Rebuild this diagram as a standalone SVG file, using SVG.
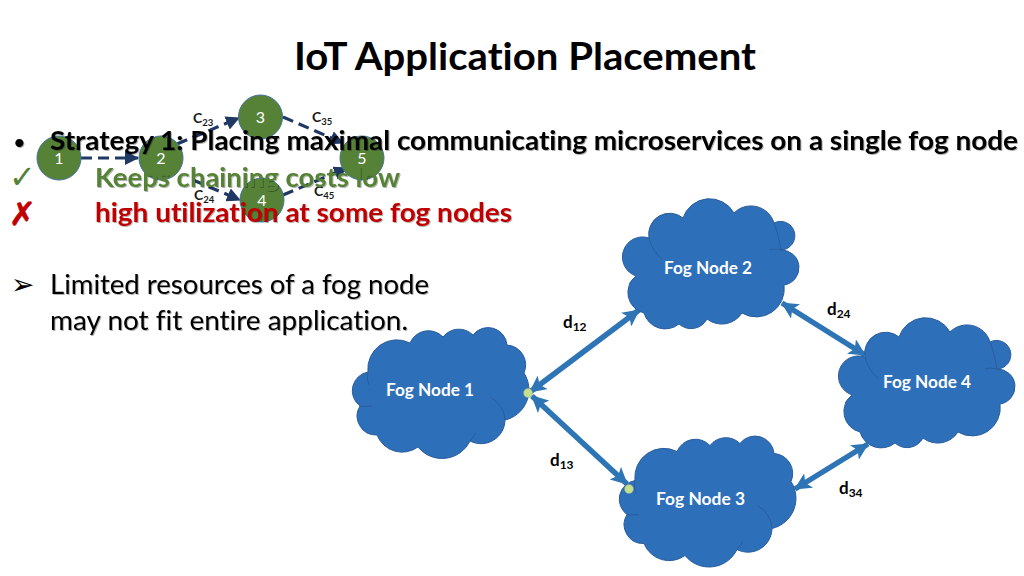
<svg xmlns="http://www.w3.org/2000/svg" xmlns:xlink="http://www.w3.org/1999/xlink" width="1024" height="576" viewBox="0 0 1024 576">
<style>
text{font-family:"Lato","Carlito","Open Sans",sans-serif;font-variant-ligatures:none}
.cloud{fill:#2e6fba;stroke:#2a5d9c;stroke-width:1}
.inner{fill:none;stroke:#2a5d9c;stroke-width:1}
.fn{fill:#fff;font-weight:700;font-size:16.5px}
.d{fill:#000;font-weight:700;font-size:17px}
.sub{font-size:12px}
.c{fill:#1a1a1a;font-weight:700;font-size:14px}
.csub{font-size:9.5px}
.ms circle{fill:#568238;stroke:#41719c;stroke-width:1}
.ms text{fill:#fff;font-size:16px;text-anchor:middle}
.dash{fill:none;stroke:#203864;stroke-width:3.200;stroke-dasharray:11 6;marker-end:url(#nav)}
.link{fill:none;stroke:#2e75b6;stroke-width:5.500;marker-start:url(#blu);marker-end:url(#blu)}
.body{font-size:26px;filter:url(#sh)}
.b{font-weight:700}
.dot{fill:#c5e08a;stroke:#7fa0a0;stroke-width:.5}
</style>
<defs>
<filter id="sh" x="-5%" y="-20%" width="110%" height="150%"><feDropShadow dx="1" dy="1" stdDeviation=".6" flood-color="#000" flood-opacity=".3"/></filter>
<marker id="blu" viewBox="0 0 17 17" refX="16" refY="8.500" markerWidth="17" markerHeight="17" markerUnits="userSpaceOnUse" orient="auto-start-reverse"><path d="M0 0L17 8.500L0 17L4 8.500Z" fill="#2e75b6"/></marker>
<marker id="nav" viewBox="0 0 14 14" refX="13" refY="7" markerWidth="14" markerHeight="14" markerUnits="userSpaceOnUse" orient="auto"><path d="M0 0L14 7L0 14Z" fill="#203864"/></marker>
<g id="cloudA">
<path class="cloud" d="M368 372A29 29 0 0 1 410 343A20 20 0 0 1 443 337A20 20 0 0 1 473 335A19 19 0 0 1 507 345A20 20 0 0 1 524 373A31 31 0 0 1 505 420A24 24 0 0 1 470 441A31 31 0 0 1 418 447A27 27 0 0 1 377 435A19 19 0 0 1 360 406A19 19 0 0 1 368 372Z"/>
<path class="inner" d="M490 397A27 27 0 0 1 505 420M368 372Q366 378 369 385M360 406Q364 407 372 406M470 441Q473 437 476 433"/>
</g>
<g id="cloudB">
<path class="cloud" d="M865 357A21 21 0 0 1 899 337A28 28 0 0 1 950 332A24 24 0 0 1 990 342A14.300 14.300 0 1 1 997 369A17.600 17.600 0 0 1 1000 404A28 28 0 0 1 958 432A24 24 0 0 1 923 438A18 18 0 0 1 895 443A22 22 0 0 1 860 432A21 21 0 0 1 852 395A20 20 0 0 1 865 357Z"/>
<path class="inner" d="M865 357Q868 370 878 378M852 395Q848 399 845 403M990 342Q994 352 997 369Q990 367 985 369"/>
</g>
</defs>
<rect width="1024" height="576" fill="#fff"/>
<g id="connectors">
<path class="dash" d="M81 158H138"/>
<path class="dash" d="M177 144L239 118"/>
<path class="dash" d="M283 117L343 143"/>
<path class="dash" d="M193 180L240 200"/>
<path class="dash" d="M283 195L347 168"/>
<path class="link" d="M530 392L639 310"/>
<path class="link" d="M532 396L627 484"/>
<path class="link" d="M782 303L865 355"/>
<path class="link" d="M868 444L795 489"/>
</g>
<g id="ms1" class="ms"><circle cx="59" cy="158" r="22"/><text x="59" y="163.500">1</text></g>
<g id="ms2" class="ms"><circle cx="161" cy="158" r="22"/><text x="161" y="163.500">2</text></g>
<g id="ms3" class="ms"><circle cx="260.500" cy="117" r="22"/><text x="260.500" y="122.500">3</text></g>
<g id="ms4" class="ms"><circle cx="262" cy="200" r="22"/><text x="262" y="205.500">4</text></g>
<g id="ms5" class="ms"><circle cx="362" cy="158" r="22"/><text x="362" y="163.500">5</text></g>
<text class="c" x="193" y="123">C<tspan class="csub" dy="3">23</tspan></text>
<text class="c" x="312" y="122">C<tspan class="csub" dy="3">35</tspan></text>
<text class="c" x="194" y="200">C<tspan class="csub" dy="3">24</tspan></text>
<text class="c" x="314" y="196">C<tspan class="csub" dy="3">45</tspan></text>

<text id="title" x="294" y="69.500" font-size="38" font-weight="700" textLength="462" lengthAdjust="spacingAndGlyphs" fill="#000">IoT Application Placement</text>

<text x="13" y="150" class="body" style="font-size:22px">•</text>
<text x="50" y="150" class="body b" textLength="968" lengthAdjust="spacingAndGlyphs">Strategy 1: Placing maximal communicating microservices on a single fog node</text>
<text x="9" y="188" font-size="32" style="font-family:'DejaVu Sans',sans-serif" fill="#548235">✓</text>
<text x="95" y="187" class="body b" fill="#548235" textLength="305" lengthAdjust="spacingAndGlyphs">Keeps chaining costs low</text>
<text x="9" y="225" font-size="32" font-weight="700" stroke="#c00000" stroke-width=".8" style="font-family:'DejaVu Sans',sans-serif" fill="#c00000">✗</text>
<text x="95" y="222" class="body b" fill="#c00000" textLength="417" lengthAdjust="spacingAndGlyphs">high utilization at some fog nodes</text>
<text x="11" y="294" font-size="28" style="font-family:'DejaVu Sans',sans-serif">➢</text>
<text x="50" y="294" class="body" textLength="379" lengthAdjust="spacingAndGlyphs">Limited resources of a fog node</text>
<text x="50" y="330" class="body" textLength="358" lengthAdjust="spacingAndGlyphs">may not fit entire application.</text>

<g id="fog1"><use xlink:href="#cloudA" href="#cloudA"/><text class="fn" x="386" y="396" textLength="88" lengthAdjust="spacingAndGlyphs">Fog Node 1</text></g>
<g id="fog2"><use xlink:href="#cloudB" href="#cloudB" transform="translate(-216,-119)"/><text class="fn" x="664" y="274" textLength="88" lengthAdjust="spacingAndGlyphs">Fog Node 2</text></g>
<g id="fog3"><use xlink:href="#cloudA" href="#cloudA" transform="translate(267,108.500)"/><text class="fn" x="656" y="505" textLength="89" lengthAdjust="spacingAndGlyphs">Fog Node 3</text></g>
<g id="fog4"><use xlink:href="#cloudB" href="#cloudB"/><text class="fn" x="883" y="388" textLength="88" lengthAdjust="spacingAndGlyphs">Fog Node 4</text></g>

<circle class="dot" cx="528" cy="393" r="4.500"/>
<circle class="dot" cx="629" cy="489" r="4.500"/>
<text class="d" x="563" y="328">d<tspan class="sub" dy="3">12</tspan></text>
<text class="d" x="827" y="315">d<tspan class="sub" dy="3">24</tspan></text>
<text class="d" x="550" y="466">d<tspan class="sub" dy="3">13</tspan></text>
<text class="d" x="839" y="494">d<tspan class="sub" dy="3">34</tspan></text>
</svg>
